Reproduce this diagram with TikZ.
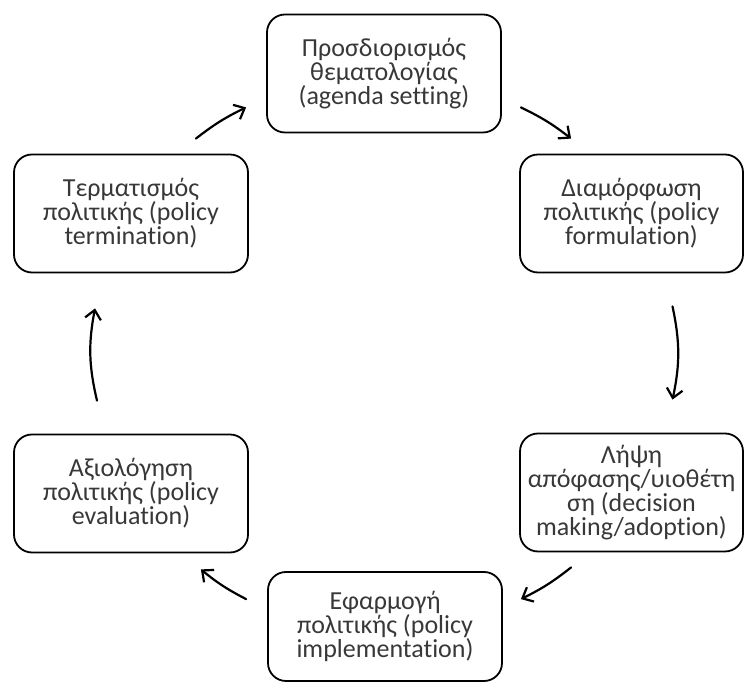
\documentclass[tikz,border=0pt]{standalone}
\usepackage{fontspec}
\setmainfont{Carlito}[Ligatures={NoCommon}]
\usetikzlibrary{arrows.meta}
\tikzset{
    stage/.style={draw=black, line width=1.8pt, rounded corners=18pt, align=center,
        minimum width=234pt, minimum height=118pt, inner sep=0pt, text=black!78,
        font=\fontsize{26}{24}\selectfont},
    cyc/.style={line width=2.2pt, line cap=round, -{Straight Barb[length=9pt,width=16pt,line width=2.2pt]}}
}
\begin{document}
\begin{tikzpicture}[x=1pt,y=1pt]
    \useasboundingbox (0,0) rectangle (744,687);
    % the six stages, clockwise from the top
    \node[stage] (top) at (384,613.5) {Προσδιορισμός\\θεματολογίας\\(agenda setting)};
    \node[stage, minimum width=223pt] (ru) at (631.5,473.5) {Διαμόρφωση\\πολιτικής (policy\\formulation)};
    \node[stage, minimum width=223pt] (rl) at (631.5,194.5) {Λήψη\\απόφασης/υιοθέτη\\ση (decision\\making/adoption)};
    \node[stage, minimum height=109pt] (bot) at (385,60.5) {Εφαρμογή\\πολιτικής (policy\\implementation)};
    \node[stage] (ll) at (131,193.5) {Αξιολόγηση\\πολιτικής (policy\\evaluation)};
    \node[stage] (lu) at (131,473.5) {Τερματισμός\\πολιτικής (policy\\termination)};
    % arrows of the cycle
    \draw[cyc] ([shift={(-53,15)}]lu.north east) to[bend left=6] ([shift={(-20,26)}]top.south west);
    \draw[cyc] ([shift={(19,26)}]top.south east) to[bend left=6] ([shift={(52,15)}]ru.north west);
    \draw[cyc] ([shift={(41,-33)}]ru.south) to[bend left=12] ([shift={(41,33)}]rl.north);
    \draw[cyc] ([shift={(52,-15)}]rl.south west) to[bend left=6] ([shift={(18,-28)}]bot.north east);
    \draw[cyc] ([shift={(-21,-28)}]bot.north west) to[bend left=6] ([shift={(-48,-16)}]ll.south east);
    \draw[cyc] ([shift={(-34,33)}]ll.north) to[bend left=12] ([shift={(-36,-35)}]lu.south);
\end{tikzpicture}
\end{document}
